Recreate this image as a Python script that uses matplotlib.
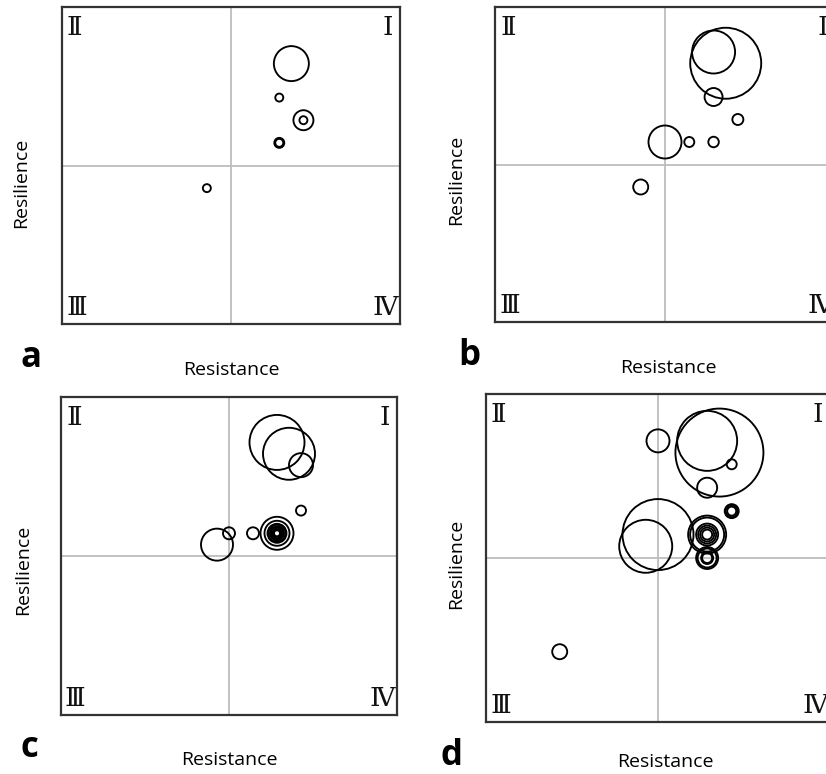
import matplotlib
matplotlib.use("Agg")
import matplotlib.pyplot as plt

# bubble centres (resistance, resilience) and bubble diameters (px) for each panel
a_x = [1.25, 1.0, 1.5, 1.5, 1.0, 1.0, -0.5]
a_y = [2.25, 1.5, 1.0, 1.0, 0.5, 0.5, -0.5]
a_d = [35, 8, 20, 8, 10, 8, 8]

b_x = [1.25, 1.0, 1.0, 1.5, 0.0, 0.5, 1.0, -0.5]
b_y = [2.25, 2.5, 1.5, 1.0, 0.5, 0.5, 0.5, -0.5]
b_d = [71, 43, 18, 11, 33, 10, 10.5, 15]

c_x = [1.0, 1.25, 1.5, 1.5, 1.0, 1.0, 1.0, 1.0, 1.0, 1.0, 1.0, 1.0, 1.0, 0.5, 0.0, -0.25]
c_y = [2.5, 2.25, 2.0, 1.0, 0.5, 0.5, 0.5, 0.5, 0.5, 0.5, 0.5, 0.5, 0.5, 0.5, 0.5, 0.25]
c_d = [55, 52, 24, 10, 33, 25, 19, 17, 14, 12, 10, 8, 6, 12, 12, 32]

d_x = [1.25, 1.0, 1.5, 0.0, 1.0, 1.5, 1.5, 1.5, 0.0, -0.25,
       1.0, 1.0, 1.0, 1.0, 1.0, 1.0, 1.0, 1.0, 1.0, 1.0, -2.0]
d_y = [2.25, 2.5, 2.0, 2.5, 1.5, 1.0, 1.0, 1.0, 0.5, 0.25,
       0.5, 0.5, 0.5, 0.5, 0.5, 0.5, 0.0, 0.0, 0.0, 0.0, -2.0]
d_d = [88, 60, 10, 23, 20, 14, 12, 9, 71, 53,
       38, 34, 22, 18, 14, 10, 22, 19, 12, 10, 15]

quadrants = ["\u2160", "\u2161", "\u2162", "\u2163"]  # I II III IV
panel_names = ["a", "b", "c", "d"]

W, H = 826, 774
fig = plt.figure(figsize=(W / 100, H / 100), dpi=100)

# axes boxes in pixels: left, top, right, bottom (b and d run past the right edge)
boxes = [(62, 7, 400, 324), (495, 7, 835, 322), (61, 397, 397, 715), (486, 394, 830, 722)]
xlabel_pos = [(0.5, -0.145), (0.509, -0.146), (0.5, -0.1415), (0.52, -0.122)]
ylabel_pos = [(-0.122, 0.445), (-0.115, 0.451), (-0.113, 0.456), (-0.087, 0.482)]
letter_pos = [(20, 367), (458, 365), (20, 757), (441, 765)]
data = [(a_x, a_y, a_d), (b_x, b_y, b_d), (c_x, c_y, c_d), (d_x, d_y, d_d)]

for i, (l, t, r, b) in enumerate(boxes):
    ax = fig.add_axes([l / W, 1 - b / H, (r - l) / W, (b - t) / H])
    xs, ys, ds = data[i]
    ax.set_xlim(-3.5, 3.5)
    ax.set_ylim(-3.5, 3.5)
    ax.axvline(0, color="#bdbdbd", lw=1.3, zorder=1)
    ax.axhline(0, color="#bdbdbd", lw=1.3, zorder=1)
    ax.scatter(xs, ys, s=[(d * 0.72) ** 2 for d in ds], facecolors="none",
               edgecolors="black", linewidths=1.35, zorder=3)
    ax.set_xticks([])
    ax.set_yticks([])
    for sp in ax.spines.values():
        sp.set_color("#333333")
        sp.set_linewidth(1.6)

    # quadrant numerals in the corners
    num_kw = dict(xycoords="axes fraction", textcoords="offset pixels",
                  fontsize=19, family=["DejaVu Serif", "DejaVu Sans"], color="#111111")
    ax.annotate(quadrants[0], (1, 1), xytext=(-7, -8), ha="right", va="top", **num_kw)
    ax.annotate(quadrants[1], (0, 1), xytext=(5, -8), ha="left", va="top", **num_kw)
    ax.annotate(quadrants[2], (0, 0), xytext=(4, 4), ha="left", va="bottom", **num_kw)
    ax.annotate(quadrants[3], (1, 0), xytext=(-2, 4), ha="right", va="bottom", **num_kw)

    ax.set_xlabel("Resistance", family="Open Sans", fontsize=14, va="center")
    ax.xaxis.set_label_coords(*xlabel_pos[i])
    ax.set_ylabel("Resilience", family="Open Sans", fontsize=14, va="center")
    ax.yaxis.set_label_coords(*ylabel_pos[i])

    lx, ly = letter_pos[i]
    fig.text(lx / W, 1 - ly / H, panel_names[i], fontsize=25, fontweight="bold",
             family="Open Sans", ha="left", va="baseline")

fig.savefig("out.png", dpi=100)
